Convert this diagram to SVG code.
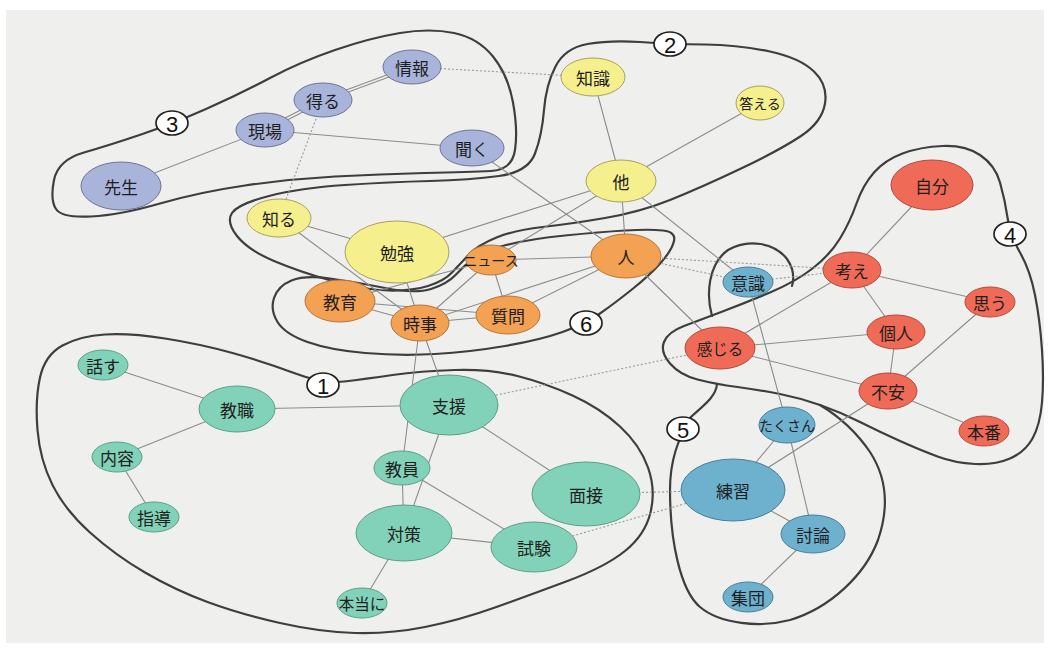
<svg xmlns="http://www.w3.org/2000/svg" width="1059" height="651" viewBox="0 0 1059 651">
<style>
.bg{fill:#efefee}
.ol{fill:none;stroke:#3e3e3e;stroke-width:2.2;stroke-linecap:round;stroke-linejoin:round}
.e{stroke:#8c8c8c;stroke-width:1.1;fill:none}
.d{stroke:#9a9a9a;stroke-width:1.1;stroke-dasharray:2 2;fill:none}
.c1{fill:#82d2b9;stroke:#5a9f88;stroke-width:1}
.c2{fill:#f6ef8d;stroke:#a8a060;stroke-width:1}
.c3{fill:#a9b4da;stroke:#6d7596;stroke-width:1}
.c4{fill:#ef6b57;stroke:#b04c3c;stroke-width:1}
.c5{fill:#6db1cf;stroke:#497f96;stroke-width:1}
.c6{fill:#f3a153;stroke:#b4753a;stroke-width:1}
.t{font-family:"Noto Sans CJK JP","Noto Sans CJK SC",sans-serif;font-size:17px;fill:#1e1e1e;text-anchor:middle;dominant-baseline:central}
.s{font-size:14px}
.m{font-size:15.5px}
.num ellipse{fill:#ffffff;stroke:#222;stroke-width:1.7}
.num text{font-family:"Liberation Sans",Arial,sans-serif;font-size:22px;fill:#111;text-anchor:middle;dominant-baseline:central}
</style>
<rect x="0" y="0" width="1059" height="651" fill="#ffffff"/>
<rect class="bg" x="6" y="10" width="1038" height="633"/>

<g id="outlines">
<path id="outline-3" class="ol" d="M56,209 Q50,200 54,180 Q58,160 84,152.5 Q110,145 141,134.5 Q172,124 206,109 Q240,94 270,78 Q300,62 335,50 Q370,38 400,33 Q430,28 454,33 Q478,38 493,56.5 Q508,75 513,102.5 Q518,130 515,150 Q512,170 491,171 Q470,172 425,173 Q380,174 335,176.5 Q290,179 245,185.5 Q200,192 160,203.5 Q120,215 91,216.5 Q62,218 56,209 Z"/>
<path id="outline-2" class="ol" d="M237,236 Q226,222 232,213 Q238,204 269,196 Q300,188 345,185 Q390,182 430,181 Q470,180 499,176 Q528,172 535,153.5 Q542,135 544,110 Q546,85 555.5,66.5 Q565,48 587.5,44 Q610,40 640,42 Q670,44 705,44.5 Q740,45 770,51.5 Q800,58 814,71.5 Q828,85 825,103.5 Q822,122 801,136 Q780,150 740,169 Q700,188 670,200 Q640,212 605,218 Q570,224 542.5,227 Q515,230 496.5,237.5 Q478,245 469,254.5 Q460,264 452,272.5 Q444,281 428,286 Q412,291 388.5,290.5 Q365,290 332.5,281 Q300,272 274,261 Q248,250 237,236 Z"/>
<path id="outline-6" class="ol" d="M674,241 Q672,250 661,262.5 Q650,275 632.5,289 Q615,303 600,313.5 Q585,324 562.5,332 Q540,340 505,346 Q470,352 435,354 Q400,356 365,353 Q330,350 307.5,342 Q285,334 277.5,322 Q270,310 274,298 Q278,286 291.5,280.5 Q305,275 330,278.5 Q355,282 385,288 Q415,294 431,289 Q447,284 455.5,275 Q464,266 473,258.5 Q482,251 506,245 Q530,239 565,235.5 Q600,232 625,230.5 Q650,229 663,230.5 Q676,232 674,241 Z"/>
<path id="outline-1" class="ol" d="M344,381.5 Q365,379 392.5,375 Q420,371 455,370 Q490,369 517.5,376 Q545,383 572.5,395.5 Q600,408 620,426.5 Q640,445 648,467.5 Q656,490 650.5,512.5 Q645,535 625,551 Q605,567 567.5,581 Q530,595 495,607.5 Q460,620 425,627 Q390,634 355,633 Q320,632 280,623 Q240,614 207.5,602 Q175,590 145,572.5 Q115,555 90,532.5 Q65,510 52.5,485 Q40,460 37.5,430 Q35,400 40,377.5 Q45,355 62.5,345.5 Q80,336 105,334.5 Q130,333 165,338.5 Q200,344 232.5,353 Q265,362 294,373 Q323,384 344,381.5 Z"/>
<path id="outline-4" class="ol" d="M664,342 Q668,332 684,326 Q700,320 722.5,311.5 Q745,303 770,292.5 Q795,282 812.5,268.5 Q830,255 840,238.5 Q850,222 856.5,203.5 Q863,185 874,172.5 Q885,160 902.5,153.5 Q920,147 942.5,146 Q965,145 980,155 Q995,165 1000,182.5 Q1005,200 1007.5,217.5 Q1010,235 1020,252.5 Q1030,270 1035,295 Q1040,320 1042,350 Q1044,380 1042,402.5 Q1040,425 1032.5,438.5 Q1025,452 1010,458.5 Q995,465 975,464 Q955,463 937.5,456.5 Q920,450 900,441 Q880,432 860,422 Q840,412 820,405 Q800,398 780,394 Q760,390 737.5,387 Q715,384 697.5,379.5 Q680,375 670,363.5 Q660,352 664,342 Z"/>
<path id="outline-5a" class="ol" d="M712,316 C706,295 708,264 728,250 C748,238 775,243 787,259 C794,269 794,279 792,286"/>
<path id="outline-5b" class="ol" d="M717,384 C716,398 700,408 690,418 C678,440 670,460 670,490 C670,540 680,590 700,607 C720,624 760,628 790,620 C830,608 865,575 878,540 C890,505 885,475 870,452 C855,430 835,414 820,405"/>
</g>

<g id="connectors">
<line class="e" x1="412.45" y1="68.22" x2="323.45" y2="101.22"/>
<line class="e" x1="411.55" y1="65.78" x2="322.55" y2="98.78"/>
<line class="e" x1="323.6" y1="101.16" x2="265.6" y2="131.16"/>
<line class="e" x1="322.4" y1="98.84" x2="264.4" y2="128.84"/>
<line class="e" x1="265" y1="130" x2="121" y2="186"/>
<line class="e" x1="265" y1="130" x2="472" y2="148"/>
<line class="d" x1="412" y1="67" x2="593" y2="77"/>
<line class="d" x1="323" y1="100" x2="279" y2="218"/>
<line class="e" x1="593" y1="77" x2="621" y2="181"/>
<line class="e" x1="760" y1="103" x2="621" y2="181"/>
<line class="e" x1="621" y1="181" x2="397" y2="252"/>
<line class="e" x1="621" y1="181" x2="626" y2="256"/>
<line class="e" x1="621" y1="181" x2="748" y2="282"/>
<line class="e" x1="621" y1="181" x2="491" y2="260"/>
<line class="e" x1="472" y1="148" x2="626" y2="256"/>
<line class="e" x1="279" y1="218" x2="397" y2="252"/>
<line class="e" x1="279" y1="218" x2="420" y2="323"/>
<line class="e" x1="397" y1="252" x2="420" y2="323"/>
<line class="e" x1="340" y1="301" x2="491" y2="260"/>
<line class="e" x1="491" y1="260" x2="626" y2="256"/>
<line class="e" x1="491" y1="260" x2="508" y2="315"/>
<line class="e" x1="491" y1="260" x2="420" y2="323"/>
<line class="e" x1="626" y1="256" x2="508" y2="315"/>
<line class="e" x1="626" y1="256" x2="420" y2="323"/>
<line class="e" x1="340" y1="301" x2="420" y2="323"/>
<line class="e" x1="340" y1="301" x2="508" y2="315"/>
<line class="e" x1="420" y1="323" x2="508" y2="315"/>
<line class="e" x1="420" y1="323" x2="449" y2="405"/>
<line class="e" x1="420" y1="323" x2="402" y2="468"/>
<line class="e" x1="626" y1="256" x2="720" y2="348"/>
<line class="d" x1="626" y1="256" x2="748" y2="282"/>
<line class="d" x1="626" y1="256" x2="852" y2="270"/>
<line class="d" x1="748" y1="282" x2="852" y2="270"/>
<line class="e" x1="237" y1="409" x2="103" y2="365"/>
<line class="e" x1="237" y1="409" x2="117" y2="457"/>
<line class="e" x1="117" y1="457" x2="154" y2="517"/>
<line class="e" x1="237" y1="409" x2="449" y2="405"/>
<line class="e" x1="449" y1="405" x2="404" y2="533"/>
<line class="e" x1="449" y1="405" x2="586" y2="494"/>
<line class="e" x1="402" y1="468" x2="404" y2="533"/>
<line class="e" x1="402" y1="468" x2="534" y2="547"/>
<line class="e" x1="404" y1="533" x2="534" y2="547"/>
<line class="e" x1="404" y1="533" x2="362" y2="603"/>
<line class="d" x1="449" y1="405" x2="720" y2="348"/>
<line class="d" x1="586" y1="494" x2="733" y2="490"/>
<line class="d" x1="534" y1="547" x2="733" y2="490"/>
<line class="e" x1="932" y1="185" x2="852" y2="270"/>
<line class="e" x1="852" y1="270" x2="990" y2="302"/>
<line class="e" x1="852" y1="270" x2="896" y2="332"/>
<line class="e" x1="896" y1="332" x2="888" y2="391"/>
<line class="e" x1="852" y1="270" x2="720" y2="348"/>
<line class="e" x1="896" y1="332" x2="720" y2="348"/>
<line class="e" x1="720" y1="348" x2="888" y2="391"/>
<line class="e" x1="990" y1="302" x2="888" y2="391"/>
<line class="e" x1="888" y1="391" x2="984" y2="431"/>
<line class="e" x1="888" y1="391" x2="733" y2="490"/>
<line class="e" x1="748" y1="282" x2="787" y2="425"/>
<line class="e" x1="787" y1="425" x2="733" y2="490"/>
<line class="e" x1="787" y1="425" x2="813" y2="534"/>
<line class="e" x1="733" y1="490" x2="813" y2="534"/>
<line class="e" x1="813" y1="534" x2="748" y2="597"/>
</g>

<g id="n-jouhou"><ellipse class="c3" cx="412" cy="67" rx="29" ry="17"/><text class="t" x="412" y="67">情報</text></g>
<g id="n-eru"><ellipse class="c3" cx="323" cy="100" rx="29" ry="17"/><text class="t" x="323" y="100">得る</text></g>
<g id="n-genba"><ellipse class="c3" cx="265" cy="130" rx="29" ry="17"/><text class="t" x="265" y="130">現場</text></g>
<g id="n-kiku"><ellipse class="c3" cx="472" cy="148" rx="32" ry="18"/><text class="t" x="472" y="148">聞く</text></g>
<g id="n-sensei"><ellipse class="c3" cx="121" cy="186" rx="40" ry="24"/><text class="t" x="121" y="186">先生</text></g>

<g id="n-chishiki"><ellipse class="c2" cx="593" cy="77" rx="32" ry="19"/><text class="t" x="593" y="77">知識</text></g>
<g id="n-kotaeru"><ellipse class="c2" cx="760" cy="103" rx="24" ry="17"/><text class="t s" x="760" y="103">答える</text></g>
<g id="n-hoka"><ellipse class="c2" cx="621" cy="181" rx="35" ry="21"/><text class="t" x="621" y="181">他</text></g>
<g id="n-shiru"><ellipse class="c2" cx="279" cy="218" rx="32" ry="19"/><text class="t" x="279" y="218">知る</text></g>
<g id="n-benkyou"><ellipse class="c2" cx="397" cy="252" rx="52" ry="31"/><text class="t" x="397" y="252">勉強</text></g>

<g id="n-news"><ellipse class="c6" cx="491" cy="260" rx="25" ry="15"/><text class="t s" x="491" y="260">ニュース</text></g>
<g id="n-hito"><ellipse class="c6" cx="626" cy="256" rx="35" ry="22"/><text class="t" x="626" y="256">人</text></g>
<g id="n-kyouiku"><ellipse class="c6" cx="340" cy="301" rx="35" ry="21"/><text class="t" x="340" y="301">教育</text></g>
<g id="n-jiji"><ellipse class="c6" cx="420" cy="323" rx="29" ry="18"/><text class="t" x="420" y="323">時事</text></g>
<g id="n-shitsumon"><ellipse class="c6" cx="508" cy="315" rx="32" ry="19"/><text class="t" x="508" y="315">質問</text></g>

<g id="n-jibun"><ellipse class="c4" cx="932" cy="185" rx="41" ry="25"/><text class="t" x="932" y="185">自分</text></g>
<g id="n-kangae"><ellipse class="c4" cx="852" cy="270" rx="29" ry="18"/><text class="t" x="852" y="270">考え</text></g>
<g id="n-omou"><ellipse class="c4" cx="990" cy="302" rx="25" ry="15"/><text class="t" x="990" y="302">思う</text></g>
<g id="n-kojin"><ellipse class="c4" cx="896" cy="332" rx="29" ry="17"/><text class="t" x="896" y="332">個人</text></g>
<g id="n-kanjiru"><ellipse class="c4" cx="720" cy="348" rx="35" ry="21"/><text class="t m" x="720" y="348">感じる</text></g>
<g id="n-fuan"><ellipse class="c4" cx="888" cy="391" rx="29" ry="18"/><text class="t" x="888" y="391">不安</text></g>
<g id="n-honban"><ellipse class="c4" cx="984" cy="431" rx="25" ry="15"/><text class="t" x="984" y="431">本番</text></g>

<g id="n-ishiki"><ellipse class="c5" cx="748" cy="282" rx="25" ry="15"/><text class="t" x="748" y="282">意識</text></g>
<g id="n-takusan"><ellipse class="c5" cx="787" cy="425" rx="28" ry="18"/><text class="t s" x="787" y="425">たくさん</text></g>
<g id="n-renshuu"><ellipse class="c5" cx="733" cy="490" rx="52" ry="31"/><text class="t" x="733" y="490">練習</text></g>
<g id="n-touron"><ellipse class="c5" cx="813" cy="534" rx="32" ry="19"/><text class="t" x="813" y="534">討論</text></g>
<g id="n-shuudan"><ellipse class="c5" cx="748" cy="597" rx="25" ry="15"/><text class="t" x="748" y="597">集団</text></g>

<g id="n-hanasu"><ellipse class="c1" cx="103" cy="365" rx="25" ry="15"/><text class="t" x="103" y="365">話す</text></g>
<g id="n-kyoushoku"><ellipse class="c1" cx="237" cy="409" rx="38" ry="23"/><text class="t" x="237" y="409">教職</text></g>
<g id="n-naiyou"><ellipse class="c1" cx="117" cy="457" rx="25" ry="15"/><text class="t" x="117" y="457">内容</text></g>
<g id="n-shidou"><ellipse class="c1" cx="154" cy="517" rx="25" ry="15"/><text class="t" x="154" y="517">指導</text></g>
<g id="n-shien"><ellipse class="c1" cx="449" cy="405" rx="49" ry="30"/><text class="t" x="449" y="405">支援</text></g>
<g id="n-kyouin"><ellipse class="c1" cx="402" cy="468" rx="28" ry="17"/><text class="t" x="402" y="468">教員</text></g>
<g id="n-mensetsu"><ellipse class="c1" cx="586" cy="494" rx="54" ry="32"/><text class="t" x="586" y="494">面接</text></g>
<g id="n-taisaku"><ellipse class="c1" cx="404" cy="533" rx="48" ry="28"/><text class="t" x="404" y="533">対策</text></g>
<g id="n-shiken"><ellipse class="c1" cx="534" cy="547" rx="43" ry="25"/><text class="t" x="534" y="547">試験</text></g>
<g id="n-hontouni"><ellipse class="c1" cx="362" cy="603" rx="25" ry="15"/><text class="t m" x="362" y="603">本当に</text></g>

<g id="labels">
<g class="num" id="num-1"><ellipse cx="323" cy="385" rx="16" ry="12"/><text x="323" y="386">1</text></g>
<g class="num" id="num-2"><ellipse cx="670" cy="44" rx="16" ry="12"/><text x="670" y="45">2</text></g>
<g class="num" id="num-3"><ellipse cx="172" cy="123" rx="16" ry="12"/><text x="172" y="124">3</text></g>
<g class="num" id="num-4"><ellipse cx="1010" cy="234" rx="16" ry="12"/><text x="1010" y="235">4</text></g>
<g class="num" id="num-5"><ellipse cx="683" cy="429" rx="16" ry="12"/><text x="683" y="430">5</text></g>
<g class="num" id="num-6"><ellipse cx="586" cy="323" rx="16" ry="12"/><text x="586" y="324">6</text></g>
</g>
</svg>
